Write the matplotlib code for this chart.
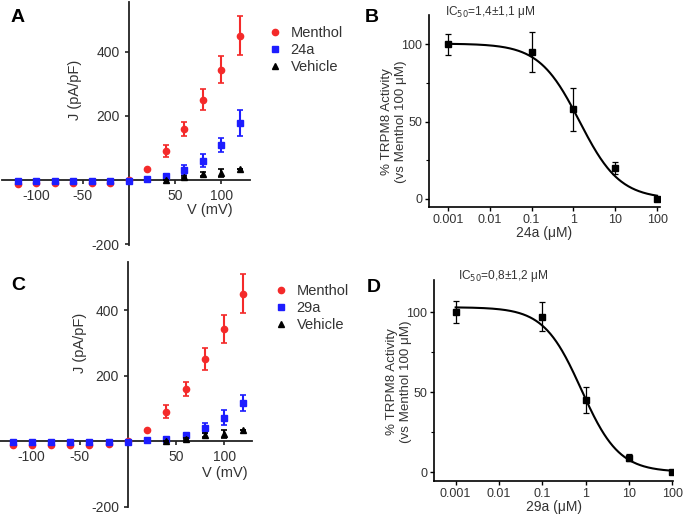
import numpy as np
import matplotlib.pyplot as plt
from matplotlib.lines import Line2D
from matplotlib.ticker import FixedLocator

# I-V data (panels A and C)
volt = [-120, -100, -80, -60, -40, -20, 0, 20, 40, 60, 80, 100, 120]
menthol = [-12, -11, -11, -11, -11, -10, 0, 35, 90, 160, 250, 343, 450]
menthol_err = [0, 0, 0, 0, 0, 0, 0, 0, 20, 22, 33, 42, 60]
c24a = [-2, -2, -2, -2, -2, -2, -2, 3, 12, 30, 60, 108, 177]
c24a_err = [0, 0, 0, 0, 0, 0, 0, 0, 6, 15, 20, 22, 40]
c29a = [-3, -3, -3, -3, -3, -3, -2, 3, 8, 18, 40, 72, 117]
c29a_err = [0, 0, 0, 0, 0, 0, 0, 0, 4, 5, 15, 22, 25]
veh_v = [40, 60, 80, 100, 120]
vehicle = [0, 8, 18, 22, 35]
vehicle_err = [0, 3, 6, 12, 0]

# dose-response data (panels B and D)
conc = [0.001, 0.1, 1, 10, 100]
act24 = [100, 95, 58, 20, 0]
act24_err = [7, 13, 14, 4, 1]
act29 = [100, 97, 45, 9, 0]
act29_err = [7, 9, 8, 2, 1]
fit24 = dict(top=100.5, bottom=0, ic50=1.4, hill=0.9)
fit29 = dict(top=103, bottom=0, ic50=0.8, hill=1.0)
log_ticks = [0.001, 0.01, 0.1, 1, 10, 100]
log_labels = ["0.001", "0.01", "0.1", "1", "10", "100"]

RED = "#f42a2a"
BLUE = "#1d1dff"
plt.rcParams['font.family'] = ['Liberation Sans', 'DejaVu Sans']
plt.rcParams['axes.unicode_minus'] = False

fig = plt.figure(figsize=(6.85, 5.14), dpi=100)
W, H = 685, 514


def px_axes(l, t, r, b):
    return fig.add_axes([l / W, 1 - b / H, (r - l) / W, (b - t) / H])


def iv_panel(ax, comp, comp_err, name, xlim, ylim, ylab_xy, xlab_xy, leg_xy):
    ax.errorbar(volt, menthol, yerr=menthol_err, fmt='o', color=RED, ms=4.5,
                capsize=2.5, elinewidth=1.5, capthick=1.2, zorder=3)
    ax.errorbar(volt, comp, yerr=comp_err, fmt='s', color=BLUE, ms=4.5,
                capsize=2.5, elinewidth=1.5, capthick=1.2, zorder=4)
    ax.errorbar(veh_v, vehicle, yerr=vehicle_err, fmt='^', color='black', ms=4,
                capsize=2.5, elinewidth=1.5, capthick=1.2, zorder=5)
    ax.set_xlim(*xlim)
    ax.set_ylim(*ylim)
    ax.spines['left'].set_position(('data', 0))
    ax.spines['bottom'].set_position(('data', 0))
    ax.spines['top'].set_visible(False)
    ax.spines['right'].set_visible(False)
    for s in ('left', 'bottom'):
        ax.spines[s].set_linewidth(1.3)
        ax.spines[s].set_color('#222222')
    ax.set_xticks([-100, -50, 50, 100])
    ax.set_yticks([-200, 200, 400])
    ax.tick_params(labelsize=10, length=3, width=1.2, colors='#222222', labelcolor='#333333')
    ax.patch.set_alpha(0)
    fig.text(ylab_xy[0] / W, 1 - ylab_xy[1] / H, "J (pA/pF)", rotation=90,
             ha='center', va='center', fontsize=10.5, color='#333333')
    fig.text(xlab_xy[0] / W, 1 - xlab_xy[1] / H, "V (mV)",
             ha='center', va='center', fontsize=10.5, color='#333333')
    handles = [Line2D([], [], ls='none', marker='o', color=RED, ms=4.5),
               Line2D([], [], ls='none', marker='s', color=BLUE, ms=4.5),
               Line2D([], [], ls='none', marker='^', color='black', ms=4)]
    ax.legend(handles, ["Menthol", name, "Vehicle"], loc='upper left',
              bbox_to_anchor=(leg_xy[0] / W, 1 - leg_xy[1] / H),
              bbox_transform=fig.transFigure, frameon=False, fontsize=10.5,
              borderpad=0, handletextpad=0.6, labelspacing=0.2, handlelength=1.0,
              labelcolor='#333333')


def dr_panel(ax, act, err, fit, name, ic_text, ic_xy, ylab_xy, xlim, ylim):
    ax.errorbar(conc, act, yerr=err, fmt='s', color='black', ms=4,
                capsize=2.5, elinewidth=0.9, capthick=0.9, zorder=3)
    xs = np.logspace(-3, 2, 300)
    ys = fit['bottom'] + (fit['top'] - fit['bottom']) / (1 + (xs / fit['ic50']) ** fit['hill'])
    ax.plot(xs, ys, color='black', lw=1.5)
    ax.set_xscale('log')
    ax.set_xlim(*xlim)
    ax.set_ylim(*ylim)
    ax.xaxis.set_major_locator(FixedLocator(log_ticks))
    ax.set_xticklabels(log_labels)
    ax.xaxis.set_minor_locator(FixedLocator([]))
    ax.set_yticks([0, 50, 100])
    ax.yaxis.set_minor_locator(FixedLocator([25, 75]))
    ax.spines['top'].set_visible(False)
    ax.spines['right'].set_visible(False)
    for s in ('left', 'bottom'):
        ax.spines[s].set_linewidth(1.2)
    ax.tick_params(labelsize=9, length=3, width=1, pad=2, labelcolor='#333333')
    ax.tick_params(which='minor', length=2, width=0.8)
    ax.set_xlabel(name + " (\u03bcM)", fontsize=10, color='#333333', labelpad=0)
    fig.text(ylab_xy[0] / W, 1 - ylab_xy[1] / H, "% TRPM8 Activity\n(vs Menthol 100 \u03bcM)",
             fontsize=9.6, color='#333333', rotation=90, ha='center', va='center',
             linespacing=1.15, multialignment='center')
    fig.text(ic_xy[0] / W, 1 - ic_xy[1] / H, ic_text, fontsize=8.6, color='#333333',
             ha='center', va='center')


axA = px_axes(2, 2, 250, 245)
iv_panel(axA, c24a, c24a_err, "24a", (-137, 131), (-203, 555), (75, 90), (210, 210), (260, 19))
axC = px_axes(0, 262, 252, 507)
iv_panel(axC, c29a, c29a_err, "29a", (-133, 129), (-201, 547), (80, 343), (225, 473), (266, 277))

axB = px_axes(429, 15, 660, 207)
dr_panel(axB, act24, act24_err, fit24, "24a", "IC$_{50}$=1,4\u00b11,1 \u03bcM", (490, 12),
         (394, 122), (10 ** -3.45, 10 ** 2.07), (-5.2, 119))
axD = px_axes(434, 280, 673, 481)
dr_panel(axD, act29, act29_err, fit29, "29a", "IC$_{50}$=0,8\u00b11,2 \u03bcM", (503, 276),
         (399, 382), (10 ** -3.5, 10 ** 2.02), (-5.6, 120))

for lab, x, y in [("A", 18, 18), ("B", 372, 18), ("C", 18, 285), ("D", 374, 287)]:
    fig.text(x / W, 1 - y / H, lab, fontsize=14, fontweight='bold', ha='center', va='center')

fig.savefig("out.png", dpi=100)
